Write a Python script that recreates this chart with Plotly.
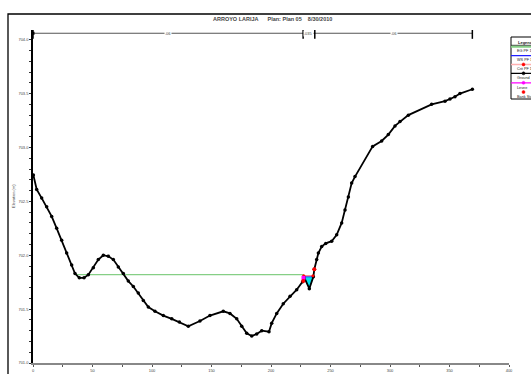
import plotly.graph_objects as go

# ---------------- data ----------------
ground_sta = [0.3, 3.1, 7.3, 11.5, 15.7, 19.9, 24.1, 28.3, 32.5, 35.3, 38.9, 42.9, 46.5,
              50.7, 54.9, 59.1, 63.3, 67.5, 71.7, 75.9, 80.1, 84.3, 88.5, 92.7, 96.9,
              102.5, 109.5, 116.6, 123.0, 130.5, 140.3, 148.7, 159.9, 165.5, 171.2,
              175.4, 179.6, 183.8, 188.0, 192.2, 198.3, 200.6, 204.8, 210.3, 216.0,
              221.6, 226.6, 227.7, 232.2, 235.6, 236.4, 238.4, 239.8, 242.6, 246.0,
              251.0, 255.2, 259.4, 262.2, 265.0, 267.8, 270.6, 285.4, 293.0, 298.6,
              304.2, 308.4, 315.4, 335.0, 346.2, 350.4, 354.6, 358.8, 369.2]
ground_elev = [702.745, 702.61, 702.53, 702.45, 702.36, 702.25, 702.14, 702.02, 701.91,
               701.83, 701.79, 701.79, 701.82, 701.885, 701.96, 702.00, 701.99, 701.96,
               701.89, 701.83, 701.76, 701.71, 701.65, 701.58, 701.52, 701.48, 701.44,
               701.41, 701.38, 701.34, 701.39, 701.44, 701.48, 701.46, 701.41, 701.34,
               701.275, 701.25, 701.27, 701.30, 701.29, 701.37, 701.46, 701.55, 701.62,
               701.68, 701.755, 701.80, 701.69, 701.80, 701.87, 701.96, 702.02, 702.08,
               702.11, 702.13, 702.19, 702.30, 702.42, 702.54, 702.67, 702.73, 703.01,
               703.06, 703.12, 703.20, 703.24, 703.30, 703.40, 703.43, 703.45, 703.47,
               703.50, 703.54]

eg_elev = 701.82
eg_sta = [36.7, 227.5]
ws_elev = 701.80
ws_sta = [227.7, 235.6]
crit_sta = [227.5, 235.3]
crit_elev = [701.81, 701.81]
levee_sta = [227.3]
levee_elev = [701.79]
bank_sta = [227.1, 236.4]
bank_elev = [701.76, 701.87]

n_break_sta = [0, 227.0, 236.8, 369.2]
n_values = [".06", ".035", ".06"]

x_ticks = [0, 50, 100, 150, 200, 250, 300, 350, 400]
y_ticks = [701.0, 701.5, 702.0, 702.5, 703.0, 703.5, 704.0]

title_text = "ARROYO LARIJA      Plan: Plan 05    8/30/2010"
legend_labels = ["EG PF 1", "WS PF 1", "Crit PF 1", "Ground", "Levee", "Bank Sta"]

# ---------------- figure ----------------
fig = go.Figure()

# water fill in channel
inside = [(s, e) for s, e in zip(ground_sta, ground_elev)
          if ws_sta[0] < s < ws_sta[1] and e < ws_elev]
w_x = [ws_sta[0]] + [s for s, _ in inside] + [ws_sta[1], ws_sta[0]]
w_y = [ws_elev] + [e for _, e in inside] + [ws_elev, ws_elev]
fig.add_trace(go.Scatter(x=w_x, y=w_y, fill="toself",
                         fillcolor="#00e5ee", line=dict(color="#00e5ee", width=0.5),
                         mode="lines", hoverinfo="skip", showlegend=False))

# EG line
fig.add_trace(go.Scatter(x=eg_sta, y=[eg_elev] * len(eg_sta), mode="lines",
                         line=dict(color="#86cf86", width=1.3), showlegend=False))
# WS line
fig.add_trace(go.Scatter(x=ws_sta, y=[ws_elev] * len(ws_sta), mode="lines",
                         line=dict(color="#2020ff", width=1), showlegend=False))

# Ground
fig.add_trace(go.Scatter(x=ground_sta, y=ground_elev, mode="lines+markers",
                         line=dict(color="black", width=1.8),
                         marker=dict(color="black", size=3.5), showlegend=False))

# Crit
fig.add_trace(go.Scatter(x=crit_sta, y=crit_elev, mode="lines+markers",
                         line=dict(color="#ff7070", width=1),
                         marker=dict(color="red", size=3), showlegend=False))
# Levee
fig.add_trace(go.Scatter(x=levee_sta, y=levee_elev, mode="markers",
                         marker=dict(color="#ff00ff", size=4, symbol="square"),
                         showlegend=False))
# Bank stations
fig.add_trace(go.Scatter(x=bank_sta, y=bank_elev, mode="markers",
                         marker=dict(color="red", size=4), showlegend=False))

# Manning's n line at top
n_y = 704.06
fig.add_trace(go.Scatter(x=[n_break_sta[0], n_break_sta[-1]], y=[n_y, n_y], mode="lines",
                         line=dict(color="#555555", width=1.2), showlegend=False))
fig.add_trace(go.Scatter(x=n_break_sta, y=[n_y] * len(n_break_sta), mode="markers",
                         marker=dict(symbol="line-ns", size=8,
                                     line=dict(color="black", width=1.5)),
                         showlegend=False))
fig.add_trace(go.Scatter(x=[n_break_sta[0]], y=[n_y], mode="markers",
                         marker=dict(symbol="square", size=3, color="black"),
                         showlegend=False))
for i, v in enumerate(n_values):
    fig.add_annotation(x=(n_break_sta[i] + n_break_sta[i + 1]) / 2, y=n_y, text=v,
                       showarrow=False, bgcolor="white", borderpad=0,
                       xanchor="center", yanchor="middle",
                       font=dict(size=4, color="#444", family="Liberation Sans"))

# ---------------- layout ----------------
W, H = 531, 374
L, R, T, B = 33, 22, 30, 11
pw, ph = W - L - R, H - T - B


def px(xp):
    return (xp - L) / pw


def py(yp):
    return (H - B - yp) / ph


fig.update_layout(
    width=W, height=H,
    margin=dict(l=L, r=R, t=T, b=B, autoexpand=False),
    paper_bgcolor="white", plot_bgcolor="white",
    showlegend=False,
    font=dict(family="Liberation Sans", size=4, color="#333"),
    xaxis=dict(range=[0, 400], tickvals=x_ticks, ticktext=[str(v) for v in x_ticks],
               automargin=False,
               showgrid=False, zeroline=False, showline=True, linecolor="#888",
               linewidth=1.5, ticks="outside", ticklen=2, tickcolor="#555",
               tickfont=dict(size=4, color="#444"),
               minor=dict(dtick=25, ticks="outside", ticklen=2, tickcolor="#555")),
    yaxis=dict(range=[701.0, 704.09], tickvals=y_ticks,
               ticktext=[f"{v:.1f}" for v in y_ticks],
               automargin=False,
               showgrid=False, zeroline=False, showline=True, linecolor="black",
               linewidth=1.5, ticks="outside", ticklen=2, tickcolor="#333",
               tickfont=dict(size=4, color="#444"),
               minor=dict(dtick=0.1, ticks="outside", ticklen=2, tickcolor="#333")),
)

# outer frame
fig.add_shape(type="rect", xref="paper", yref="paper", x0=px(8), x1=px(560),
              y0=py(390), y1=py(14), line=dict(color="black", width=1.3),
              fillcolor="rgba(0,0,0,0)", layer="below")

# y axis title
fig.add_annotation(xref="paper", yref="paper", x=px(13), y=py(196), text="Elevation (m)",
                   textangle=-90, showarrow=False, xanchor="center", yanchor="middle",
                   font=dict(size=4, color="#444", family="Liberation Sans"))

# title
fig.add_annotation(xref="paper", yref="paper", x=px(272), y=py(19), text=f"<b>{title_text}</b>",
                   showarrow=False, xanchor="center", yanchor="middle",
                   font=dict(size=5.5, color="#444", family="Liberation Sans"))

# custom legend box
fig.add_shape(type="rect", xref="paper", yref="paper", x0=px(511), x1=px(546),
              y0=py(99), y1=py(37), line=dict(color="black", width=1),
              fillcolor="white")
fig.add_shape(type="line", xref="paper", yref="paper", x0=px(511), x1=px(546),
              y0=py(45.3), y1=py(45.3), line=dict(color="black", width=0.8))
fig.add_annotation(xref="paper", yref="paper", x=px(515.5), y=py(42.3), text="<b>Legend</b>",
                   showarrow=False, xanchor="left", yanchor="middle",
                   font=dict(size=4, color="#222"))

leg_rows = [
    (46.7, 51.2, "#86cf86", 2.0, None),
    (55.6, 60.0, "#2020ff", 1.2, None),
    (64.4, 69.0, "#ffb0b0", 1.5, "red"),
    (73.3, 77.8, "black", 1.2, "black"),
    (82.8, 87.5, "#ff00ff", 1.2, "#ff00ff"),
    (92.0, 96.6, None, 0, "red"),
]
for (ly, ty, lc, lw, mc), lab in zip(leg_rows, legend_labels):
    if lc:
        fig.add_shape(type="line", xref="paper", yref="paper", x0=px(511), x1=px(546),
                      y0=py(ly), y1=py(ly), line=dict(color=lc, width=lw))
    if mc:
        fig.add_shape(type="circle", xref="paper", yref="paper", x0=px(522), x1=px(525),
                      y0=py(ly + 1.5), y1=py(ly - 1.5), line=dict(color=mc, width=0.5),
                      fillcolor=mc)
    fig.add_annotation(xref="paper", yref="paper", x=px(514.5), y=py(ty), text=lab,
                       showarrow=False, xanchor="left", yanchor="middle",
                       font=dict(size=3.8, color="#222"))

fig.write_html("out.html")
